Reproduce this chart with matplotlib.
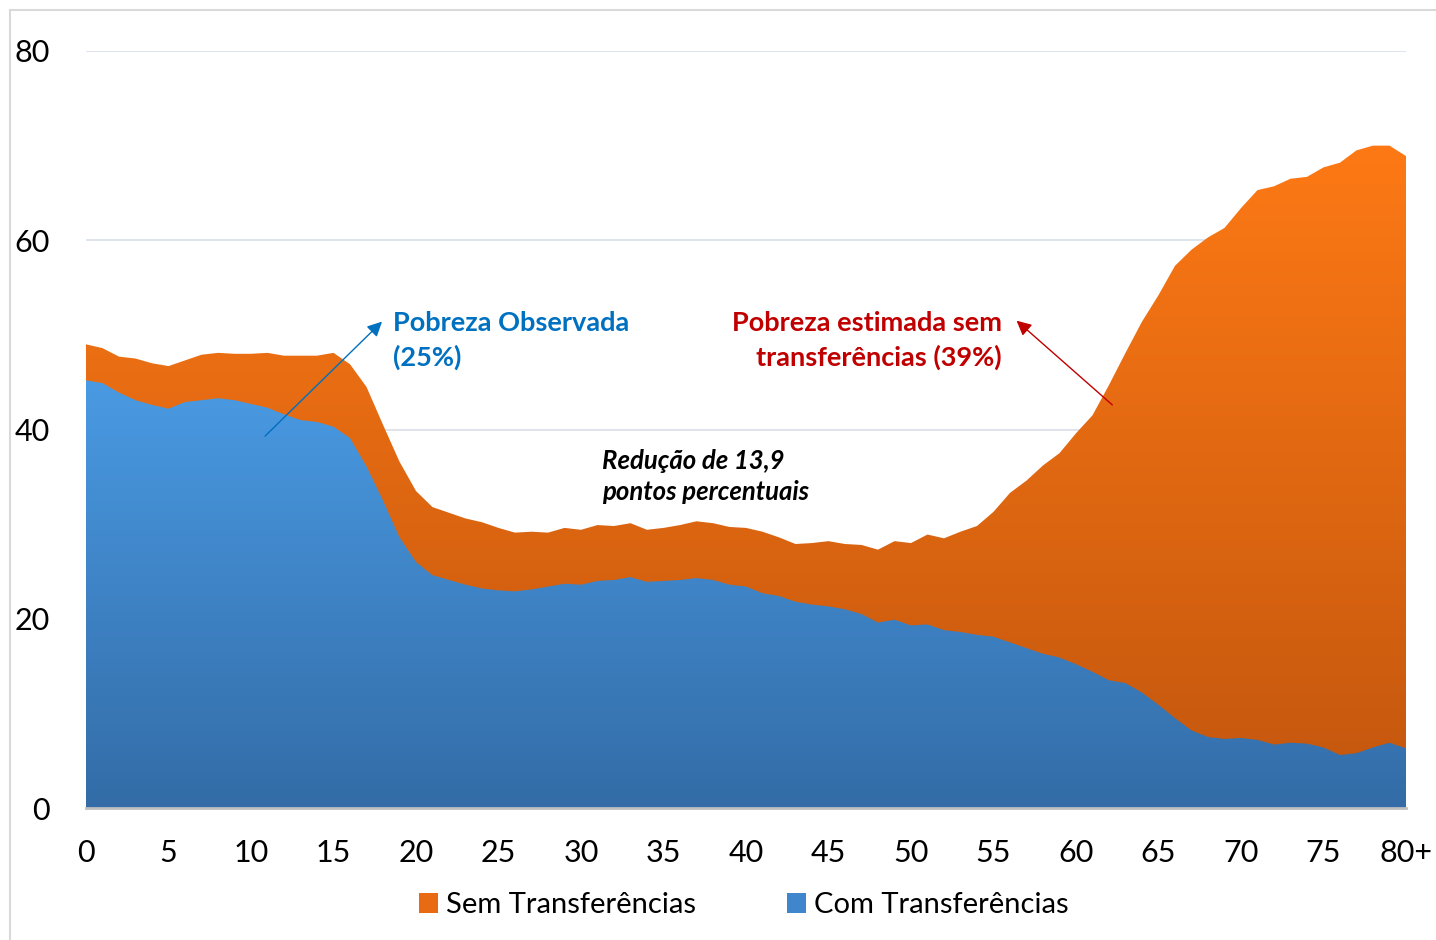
import numpy as np
import matplotlib.pyplot as plt
from matplotlib.colors import LinearSegmentedColormap
from matplotlib.patches import PathPatch, Patch, Rectangle

plt.rcParams['font.family'] = ['Lato', 'DejaVu Sans']

# idade 0..80+ e taxa de pobreza (%)
idade = np.arange(0, 81)
sem_transf = [49.0, 48.6, 47.7, 47.5, 47.0, 46.7, 47.3, 47.9, 48.1, 48.0,
              48.0, 48.1, 47.8, 47.8, 47.8, 48.1, 46.9, 44.5, 40.5, 36.6,
              33.5, 31.8, 31.2, 30.6, 30.2, 29.6, 29.1, 29.2, 29.1, 29.6,
              29.4, 29.9, 29.8, 30.1, 29.4, 29.6, 29.9, 30.3, 30.1, 29.7,
              29.6, 29.2, 28.6, 27.9, 28.0, 28.2, 27.9, 27.8, 27.3, 28.2,
              28.0, 28.9, 28.5, 29.2, 29.8, 31.3, 33.3, 34.6, 36.2, 37.5,
              39.6, 41.5, 44.7, 48.1, 51.4, 54.2, 57.3, 59.0, 60.3, 61.3,
              63.4, 65.3, 65.7, 66.5, 66.7, 67.7, 68.2, 69.5, 70.0, 70.0,
              68.9]
com_transf = [45.2, 44.9, 43.9, 43.1, 42.6, 42.2, 42.9, 43.1, 43.3, 43.1,
              42.7, 42.3, 41.6, 41.0, 40.8, 40.3, 39.1, 36.1, 32.5, 28.6,
              26.0, 24.6, 24.1, 23.6, 23.2, 23.0, 22.9, 23.1, 23.4, 23.7,
              23.6, 24.0, 24.1, 24.4, 23.9, 24.0, 24.1, 24.3, 24.1, 23.6,
              23.4, 22.7, 22.4, 21.8, 21.5, 21.3, 21.0, 20.5, 19.6, 19.9,
              19.3, 19.4, 18.8, 18.6, 18.3, 18.1, 17.5, 16.9, 16.3, 15.9,
              15.2, 14.4, 13.5, 13.2, 12.2, 10.9, 9.5, 8.2, 7.5, 7.3,
              7.4, 7.2, 6.7, 6.9, 6.8, 6.4, 5.6, 5.8, 6.4, 6.9,
              6.3]
xticks = list(range(0, 81, 5))
xlabels = [str(v) for v in range(0, 80, 5)] + ['80+']
yticks = [0, 20, 40, 60, 80]


def area_gradiente(ax, x, y, cor_topo, cor_base, y_topo, z):
    poly = ax.fill_between(x, 0, y, facecolor='none', edgecolor='none')
    patch = PathPatch(poly.get_paths()[0], facecolor='none', edgecolor='none',
                      transform=ax.transData)
    ax.add_patch(patch)
    cmap = LinearSegmentedColormap.from_list('g', [cor_base, cor_topo])
    grad = np.linspace(0, 1, 256).reshape(-1, 1)
    im = ax.imshow(grad, cmap=cmap, aspect='auto', origin='lower',
                   extent=[x[0], x[-1], 0, y_topo], zorder=z)
    im.set_clip_path(patch)


fig = plt.figure(figsize=(14.36, 9.40), dpi=100)
ax = fig.add_axes([86 / 1436, 132 / 940, 1320 / 1436, 757 / 940])

area_gradiente(ax, idade, sem_transf, '#FF7A15', '#C2560E', 72, 2)
area_gradiente(ax, idade, com_transf, '#4A9BE4', '#336CA7', 46, 3)

ax.set_xlim(0, 80)
ax.set_ylim(0, 80)
ax.set_xticks(xticks)
ax.set_xticklabels(xlabels)
ax.set_yticks(yticks)
ax.tick_params(axis='y', length=0, pad=26, labelsize=22)
ax.tick_params(axis='x', length=0, pad=22, labelsize=22)
ax.yaxis.grid(True, color='#DCE1EA', lw=1.3)
ax.set_axisbelow(True)
for s in ['top', 'right', 'left']:
    ax.spines[s].set_visible(False)
ax.spines['bottom'].set_color('#BFBFBF')
ax.spines['bottom'].set_linewidth(2)
ax.spines['bottom'].set_zorder(5)

# anotacoes
ax.text(18.6, 49.4, 'Pobreza Observada\n(25%)', color='#0070C0', fontsize=19.5,
        fontweight='bold', ha='left', va='center', linespacing=1.45)
ax.annotate('', xy=(17.94, 51.4), xytext=(10.85, 39.3),
            arrowprops=dict(arrowstyle='-|>', color='#0070C0', lw=1,
                            mutation_scale=22, shrinkA=0, shrinkB=0), zorder=6)
ax.text(55.5, 49.4, 'Pobreza estimada sem\ntransferências (39%)', color='#C00000',
        fontsize=19.5, fontweight='bold', ha='right', va='center', linespacing=1.45,
        multialignment='right')
ax.annotate('', xy=(56.4, 51.5), xytext=(62.2, 42.6),
            arrowprops=dict(arrowstyle='-|>', color='#C00000', lw=1,
                            mutation_scale=22, shrinkA=0, shrinkB=0), zorder=6)
ax.text(31.3, 35.0, 'Redução de 13,9\npontos percentuais', color='black',
        fontsize=18.5, fontweight='bold', fontstyle='italic', ha='left',
        va='center', linespacing=1.35)

handles = [Patch(facecolor='#E86A12', label='Sem Transferências'),
           Patch(facecolor='#3F86CC', label='Com Transferências')]
fig.legend(handles=handles, loc='center', bbox_to_anchor=(0.518, 0.037), ncol=2,
           frameon=False, fontsize=21, handlelength=0.65, handleheight=0.65,
           handletextpad=0.3, columnspacing=3.1)

fig.add_artist(Rectangle((10 / 1436, -0.05), 1.0, 930 / 940 + 0.05,
                         transform=fig.transFigure, fill=False,
                         edgecolor='#D9D9D9', lw=1.5, zorder=-1))

fig.savefig('out.png', dpi=100)
